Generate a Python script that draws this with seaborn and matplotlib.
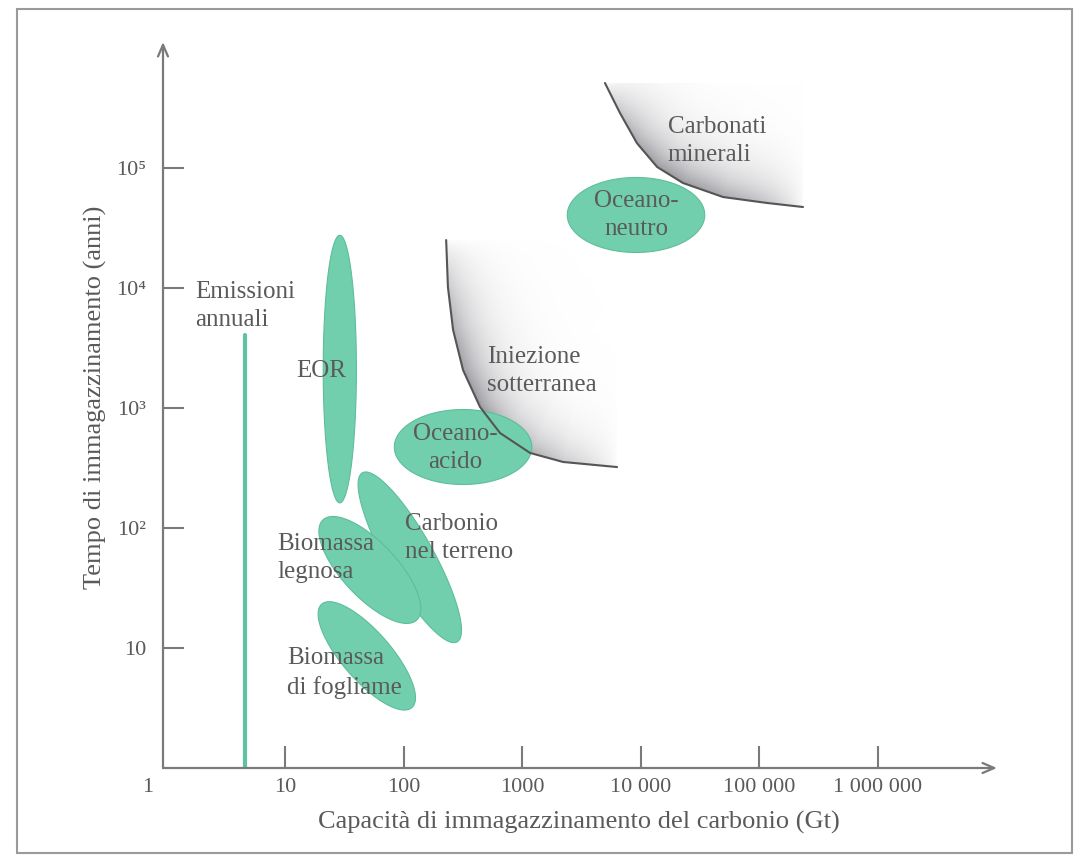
import numpy as np
import matplotlib
matplotlib.use("Agg")
import matplotlib.pyplot as plt
from matplotlib.colors import LinearSegmentedColormap
from matplotlib.patches import Rectangle
import seaborn as sns

# ---- data -------------------------------------------------------------
# storage options: centre (capacity Gt, time years), extent in decades, tilt (deg)
option_names = ["EOR", "Oceano-acido", "Oceano-neutro", "Carbonio nel terreno",
                "Biomassa legnosa", "Biomassa di fogliame"]
option_capacity = [29, 318, 9160, 113, 52, 49]
option_time = [2110, 473, 40600, 57, 44.7, 8.6]
option_long_dec = [2.23, 1.16, 1.16, 1.62, 1.15, 1.15]
option_short_dec = [0.28, 0.625, 0.625, 0.40, 0.46, 0.41]
option_angle = [90, 0, 0, 119.6, 133.6, 131.5]

# boundaries of the geological options
injection_capacity = [229, 237, 262, 318, 442, 652, 1170, 2220, 6340]
injection_time = [25100, 10190, 4470, 2070, 1020, 619, 422, 355, 322]
mineral_capacity = [5010, 6710, 9330, 13800, 22800, 49700, 117000, 235000]
mineral_time = [511000, 287000, 161000, 102000, 75000, 57300, 51100, 47300]

# annual emissions
emission_capacity = 4.6
emission_time_top = 4060

x_tick_values = [10, 100, 1000, 10000, 100000, 1000000]
x_tick_labels = ["10", "100", "1000", "10 000", "100 000", "1 000 000"]
y_tick_values = [10, 100, 1000, 10000, 100000]
y_tick_labels = ["10", "10²", "10³", "10⁴", "10⁵"]

# ---- style ------------------------------------------------------------
sns.set_theme(style="white")
plt.rcParams["font.family"] = ["Liberation Serif", "DejaVu Serif"]

GREEN = "#72CFAE"
GREEN_EDGE = "#5DBE9A"
AXIS = "#7a7a7a"
TEXT = "#5a5a5a"

fig = plt.figure(figsize=(10.75, 8.55), dpi=100)
ax = fig.add_axes([163 / 1075, 1 - 768 / 855, (997 - 163) / 1075, (768 - 42) / 855])
ax.set_xscale("log")
ax.set_yscale("log")
ax.set_xlim(10 ** -0.0295, 10 ** 7.008)
ax.set_ylim(1, 10 ** 6.05)
for s in ax.spines.values():
    s.set_visible(False)


def ellipse_points(cx, cy, length, width, angle, n=240):
    t = np.linspace(0, 2 * np.pi, n)
    th = np.radians(angle)
    a, b = length / 2, width / 2
    u = np.log10(cx) + a * np.cos(t) * np.cos(th) - b * np.sin(t) * np.sin(th)
    v = np.log10(cy) + a * np.cos(t) * np.sin(th) + b * np.sin(t) * np.cos(th)
    return 10 ** u, 10 ** v


GREY = (0.50, 0.50, 0.53)


def shade_inside(xs, ys, reach):
    """Grey gradient on the inner side of a boundary curve, fading away from it."""
    uc, vc = np.log10(xs), np.log10(ys)
    nu = nv = 300
    u = np.linspace(uc.min(), uc.max(), nu)
    v = np.linspace(vc.min(), vc.max(), nv)
    U, V = np.meshgrid(u, v)
    n = 500
    s = np.linspace(0, len(uc) - 1, n)
    ud = np.interp(s, np.arange(len(uc)), uc)
    vd = np.interp(s, np.arange(len(vc)), vc)
    d = np.full(U.shape, np.inf)
    idx = np.zeros(U.shape)
    for k, (ui, vi) in enumerate(zip(ud, vd)):
        dk = np.hypot(U - ui, V - vi)
        closer = dk < d
        d = np.where(closer, dk, d)
        idx = np.where(closer, k, idx)
    pos = idx / (n - 1)
    along = np.sin(np.pi * pos) ** 0.7
    inside = V > np.interp(U, uc, vc)
    inten = np.where(inside, np.exp(-d / reach) * along, 0.0)
    rgba = np.zeros((nv, nu, 4))
    rgba[..., :3] = GREY
    rgba[..., 3] = 0.8 * inten
    # map the log-space raster onto the log axes via data-space cell edges
    ue = np.concatenate([[u[0]], (u[1:] + u[:-1]) / 2, [u[-1]]])
    ve = np.concatenate([[v[0]], (v[1:] + v[:-1]) / 2, [v[-1]]])
    mesh = ax.pcolormesh(10 ** ue, 10 ** ve, inten, shading="flat", zorder=1)
    mesh.set_array(None)
    mesh.set_facecolor(rgba.reshape(-1, 4))
    mesh.set_edgecolor("none")


shade_inside(injection_capacity, injection_time, 0.22)
shade_inside(mineral_capacity, mineral_time, 0.22)

for cx, cy, L, W, ang in zip(option_capacity, option_time, option_long_dec,
                             option_short_dec, option_angle):
    ex, ey = ellipse_points(cx, cy, L, W, ang)
    ax.fill(ex, ey, facecolor=GREEN, edgecolor=GREEN_EDGE, lw=0.8, zorder=2)

for xs, ys in [(injection_capacity, injection_time), (mineral_capacity, mineral_time)]:
    sns.lineplot(x=xs, y=ys, sort=False, estimator=None, color="#555555",
                 lw=1.5, ax=ax, zorder=3)

sns.lineplot(x=[emission_capacity, emission_capacity], y=[1, emission_time_top],
             sort=False, estimator=None, color="#5cc4a0", lw=3, ax=ax, zorder=3)

# axes drawn as arrows
arrow = dict(arrowstyle="->,head_length=0.7,head_width=0.3", color=AXIS, lw=1.6,
             shrinkA=0, shrinkB=0)
ax.annotate("", xy=(0, 1), xytext=(0, 0), xycoords="axes fraction", arrowprops=arrow)
ax.annotate("", xy=(1, 0), xytext=(0, 0), xycoords="axes fraction", arrowprops=arrow)

ax.set_xticks(x_tick_values)
ax.set_xticklabels(x_tick_labels)
ax.set_yticks(y_tick_values)
ax.set_yticklabels(y_tick_labels)
ax.minorticks_off()
ax.tick_params(axis="x", direction="in", length=16, width=1.5, color=AXIS,
               labelsize=16, labelcolor=TEXT, pad=7, bottom=True)
ax.tick_params(axis="y", direction="in", length=15, width=1.5, color=AXIS,
               labelsize=16, labelcolor=TEXT, pad=12, left=True)
ax.grid(False)

fig.text(148 / 1075, 1 - 787 / 855, "1", ha="center", va="center",
         fontsize=16, color=TEXT)

fig.text(579 / 1075, 1 - 822 / 855,
         "Capacità di immagazzinamento del carbonio (Gt)",
         ha="center", va="center", fontsize=19, color=TEXT)
fig.text(95 / 1075, 1 - 397 / 855, "Tempo di immagazzinamento (anni)",
         ha="center", va="center", rotation=90, fontsize=19, color=TEXT)

# labels
label_kw = dict(fontsize=18, color=TEXT, va="center", linespacing=1.35, zorder=5)
ax.text(1.74, 7080, "Emissioni\nannuali", ha="left", **label_kw)
ax.text(12.4, 2030, "EOR", ha="left", **label_kw)
ax.text(272, 464, "Oceano-\nacido", ha="center", **label_kw)
ax.text(9160, 40600, "Oceano-\nneutro", ha="center", **label_kw)
ax.text(17000, 168000, "Carbonati\nminerali", ha="left", **label_kw)
ax.text(507, 2030, "Iniezione\nsotterranea", ha="left", **label_kw)
ax.text(103, 82.5, "Carbonio\nnel terreno", ha="left", **label_kw)
ax.text(8.56, 56.2, "Biomassa\nlegnosa", ha="left", **label_kw)
ax.text(10.4, 6.2, "Biomassa\ndi fogliame", ha="left", **label_kw)

# outer frame
fig.patches.append(Rectangle((17 / 1075, 2 / 855), (1072 - 17) / 1075, (853 - 9) / 855,
                             transform=fig.transFigure, fill=False,
                             edgecolor="#9a9a9a", lw=1.5))

fig.savefig("out.png", dpi=100)
